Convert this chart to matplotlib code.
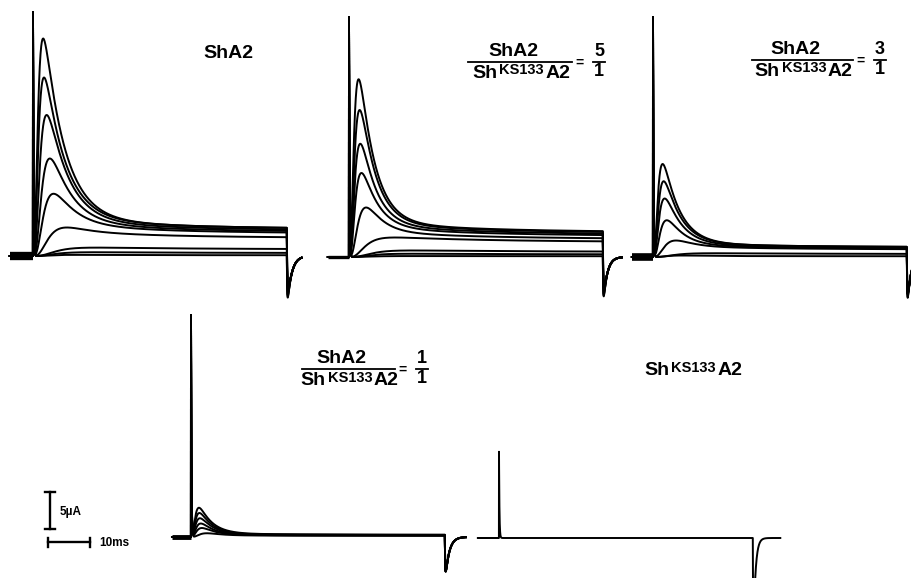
import numpy as np
import matplotlib
matplotlib.use("Agg")
import matplotlib.pyplot as plt
from matplotlib.lines import Line2D

# figure size in pixels and the recording scale (pixels per ms / per uA)
W, H = 912, 578
PX_MS = 4.23
PX_UA = 7.5
DUR = 60.0      # test pulse, ms
DT = 0.02

# peak current (uA), current at end of pulse (uA), activation time constant (ms)
SHA2_PEAK = [29.0, 23.8, 18.8, 13.0, 8.3, 3.8, 1.0, 0.5, 0.15]
SHA2_SS = [3.6, 3.6, 3.4, 3.2, 3.0, 2.4, 0.9, 0.4, 0.1]
SHA2_TAU_M = [0.68, 0.75, 1.0, 1.3, 1.6, 2.4, 3.0, 3.0, 3.0]

R51_PEAK = [23.7, 19.6, 15.1, 11.2, 6.6, 2.6, 0.7, 0.35, 0.1]
R51_SS = [3.3, 3.2, 3.0, 2.8, 2.4, 2.0, 0.7, 0.35, 0.1]
R51_TAU_M = [0.7, 0.8, 0.85, 0.95, 1.4, 2.2, 3.0, 3.0, 3.0]

R31_PEAK = [12.4, 10.1, 7.8, 4.9, 2.2, 0.5, 0.2]
R31_SS = [1.3, 1.3, 1.2, 1.1, 1.0, 0.4, 0.1]
R31_TAU_M = [0.7, 0.8, 0.9, 1.1, 2.0, 3.0, 3.0]

R11_PEAK = [3.9, 3.2, 2.5, 1.8, 1.2, 0.5]
R11_SS = [0.3, 0.25, 0.25, 0.2, 0.2, 0.15]
R11_TAU_M = [0.6, 0.65, 0.7, 0.8, 0.9, 1.5]

KS_PEAK = [0.0]
KS_SS = [0.0]
KS_TAU_M = [1.0]

# inactivation time constant, capacity spike at pulse onset, off transient
TAU_H = [4.8, 3.6, 3.8, 3.0, 3.0]
CAP = [32.5, 32.0, 32.0, 29.6, 11.5]
TAIL = [-5.6, -5.3, -5.5, -4.7, -10.0]
TAIL_TAU = [1.0, 0.9, 0.8, 0.9, 0.5]

# panel placement: pulse onset x, baseline y (pixels), recorded window (ms)
ORIGIN_PX = [(33, 256), (349, 257), (653, 257), (191, 537), (499, 538)]
WINDOW = [(-5.5, 63.5), (-5.0, 64.5), (-5.0, 61.5), (-4.5, 65.0), (-5.0, 66.5)]
PRE_LW = [6.0, 2.4, 5.5, 3.5, 1.3]


def k_current(t, amp, ss, tau_m, tau_h):
    tt = np.clip(t, 0, None)
    m4 = (1 - np.exp(-tt / tau_m)) ** 4
    return m4 * (amp * np.exp(-tt / tau_h) + ss * (1 + 0.5 * np.exp(-tt / 25.0)))


def inact_amp(peak, ss, tau_m, tau_h):
    t = np.arange(0, DUR, DT)
    a = max(peak - ss, 0.0)
    for _ in range(80):
        a = max(a + 1.2 * (peak - k_current(t, a, ss, tau_m, tau_h).max()), 0.0)
    return a


def sweep(t, peak, ss, tau_m, tau_h, cap, tail, tail_tau):
    a = inact_amp(peak, ss, tau_m, tau_h)
    cur = np.zeros_like(t)
    on = (t >= 0) & (t < DUR)
    cur[on] = k_current(t[on], a, ss, tau_m, tau_h) + cap * np.exp(-t[on] / 0.1)
    off = t >= DUR
    s = t[off] - DUR
    i_end = k_current(DUR, a, ss, tau_m, tau_h)
    sg = np.arange(0, 5, 0.005)
    dip_max = (np.exp(-sg / tail_tau) - np.exp(-sg / 0.08)).max()
    dip = (np.exp(-s / tail_tau) - np.exp(-s / 0.08)) / dip_max
    cur[off] = i_end * np.exp(-s / 0.3) + tail * dip
    return cur


def fx(px):
    return px / W


def fy(py):
    return 1 - py / H


fig = plt.figure(figsize=(W / 100, H / 100), dpi=100)
ax = fig.add_axes([0, 0, 1, 1])
ax.set_xlim(0, W / PX_MS)
ax.set_ylim(-H / PX_UA, 0)
ax.axis("off")

panels = [
    (SHA2_PEAK, SHA2_SS, SHA2_TAU_M),
    (R51_PEAK, R51_SS, R51_TAU_M),
    (R31_PEAK, R31_SS, R31_TAU_M),
    (R11_PEAK, R11_SS, R11_TAU_M),
    (KS_PEAK, KS_SS, KS_TAU_M),
]

for k, (peaks, sss, taus) in enumerate(panels):
    ox = ORIGIN_PX[k][0] / PX_MS
    oy = -ORIGIN_PX[k][1] / PX_UA
    t0, t1 = WINDOW[k]
    t = np.arange(int(round(t0 / DT)), int(round(t1 / DT)) + 1) * DT
    # thick holding-level band before the pulse
    ax.plot([ox + t0, ox], [oy, oy], color="k", lw=PRE_LW[k], solid_capstyle="butt")
    for p, s, tm in zip(peaks, sss, taus):
        cur = sweep(t, p, s, tm, TAU_H[k], CAP[k], TAIL[k], TAIL_TAU[k])
        ax.plot(ox + t, oy + cur, color="k", lw=1.4, solid_joinstyle="round")

# scale bars: 5 uA and 10 ms
sx, sy = 50 / PX_MS, -529 / PX_UA
ax.plot([sx, sx], [sy, sy + 5], color="k", lw=1.7)
for yy in (sy, sy + 5):
    ax.plot([sx - 1.2, sx + 1.2], [yy, yy], color="k", lw=1.7)
hx, hy = 48 / PX_MS, -542 / PX_UA
ax.plot([hx, hx + 10], [hy, hy], color="k", lw=1.7)
for xx in (hx, hx + 10):
    ax.plot([xx, xx], [hy - 0.6, hy + 0.6], color="k", lw=1.7)

FONT = dict(family="Liberation Sans", weight="bold", color="k")
renderer = fig.canvas.get_renderer()

fig.text(fx(60), fy(512), "5\u00b5A", fontsize=8.5, va="center", ha="left", **FONT)
fig.text(fx(99), fy(543), "10ms", fontsize=8.5, va="center", ha="left", **FONT)

fig.text(fx(228), fy(58), "ShA2", fontsize=14, ha="center", va="baseline", **FONT)


def mutant_label(xc, base):
    # Sh^KS133 A2 with a low-set superscript as in the original lettering
    parts = [("Sh", 14, 0), ("KS133", 10.5, 3.5), ("A2", 14, 0)]
    gaps = [2.0, 1.5, 0]
    texts = [fig.text(0, fy(base - dy), s, fontsize=fs, ha="left", va="baseline", **FONT)
             for s, fs, dy in parts]
    widths = [tx.get_window_extent(renderer).width for tx in texts]
    x = xc - (sum(widths) + sum(gaps)) / 2
    for tx, w, g in zip(texts, widths, gaps):
        tx.set_x(fx(x))
        x += w + g


mutant_label(693, 375)


def ratio(x1, x2, y, digit):
    mid = (x1 + x2) / 2
    fig.add_artist(Line2D([fx(x1), fx(x2)], [fy(y), fy(y)], color="k", lw=1.3))
    fig.text(fx(mid - 7), fy(y - 6), "ShA2", fontsize=14, ha="center", va="baseline", **FONT)
    mutant_label(mid + 1, y + 16)
    fig.text(fx(x2 + 8), fy(y + 1), "=", fontsize=10, ha="center", va="center", **FONT)
    dx = x2 + 27
    fig.add_artist(Line2D([fx(dx - 6), fx(dx + 6)], [fy(y), fy(y)], color="k", lw=1.3))
    fig.text(fx(dx), fy(y - 6), digit, fontsize=13, ha="center", va="baseline", **FONT)
    fig.text(fx(dx), fy(y + 14), "1", fontsize=13, ha="center", va="baseline", **FONT)


ratio(468, 572, 62, "5")
ratio(752, 853, 60, "3")
ratio(302, 395, 369, "1")

fig.savefig("out.png", dpi=100)
